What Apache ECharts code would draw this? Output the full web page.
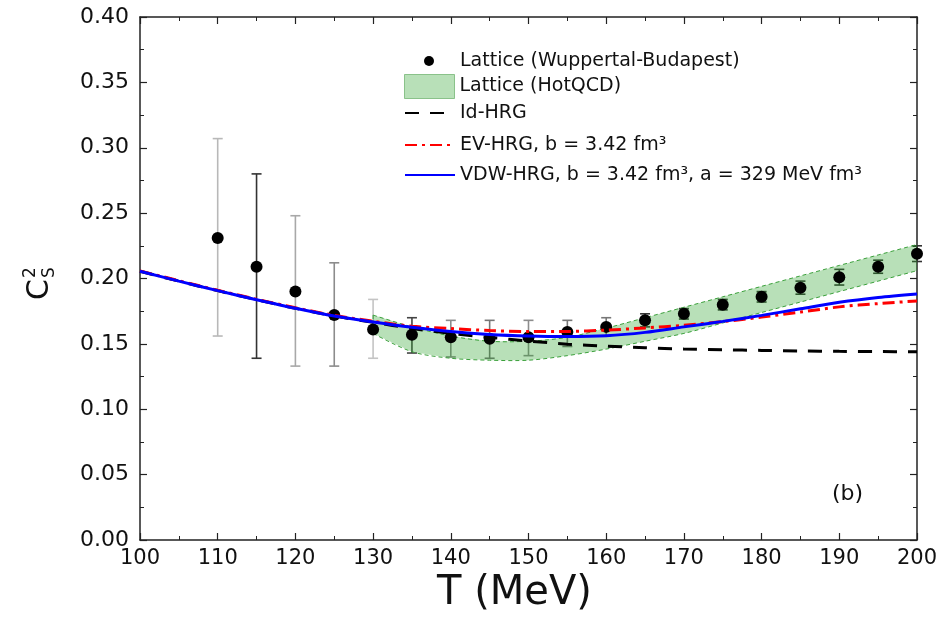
<!DOCTYPE html>
<html><head><meta charset="utf-8">
<script src="https://cdn.jsdelivr.net/npm/echarts@6/dist/echarts.min.js"></script>
<style>html,body{margin:0;padding:0;background:#fff}#c{width:948px;height:620px}</style>
</head><body><div id="c"></div>
<script>
// ---- data ----
const latticeT    = [110,115,120,125,130,135,140,145,150,155,160,165,170,175,180,185,190,195,200];
const latticeCs2  = [0.231,0.209,0.190,0.172,0.161,0.157,0.155,0.154,0.155,0.159,0.163,0.168,0.173,0.180,0.186,0.193,0.201,0.209,0.219];
const latticeLow  = [0.156,0.139,0.133,0.133,0.139,0.143,0.140,0.139,0.141,0.148,0.156,0.163,0.169,0.176,0.182,0.188,0.195,0.204,0.213];
const latticeHigh = [0.307,0.280,0.248,0.212,0.184,0.170,0.168,0.168,0.168,0.168,0.170,0.173,0.177,0.184,0.190,0.198,0.207,0.214,0.225];

const hotT    = [130,135,140,145,150,155,160,165,170,175,180,185,190,195,200];
const hotHigh = [0.172,0.163,0.156,0.152,0.152,0.155,0.162,0.170,0.178,0.186,0.194,0.202,0.210,0.218,0.226];
const hotLow  = [0.158,0.144,0.139,0.1375,0.1375,0.141,0.146,0.152,0.158,0.166,0.174,0.182,0.190,0.198,0.206];

const curveT = [100,105,110,115,120,125,130,135,140,145,150,155,160,165,170,175,180,185,190,195,200];
const idHRG  = [0.2055,0.1980,0.1907,0.1838,0.1772,0.1713,0.1665,0.1618,0.1580,0.1550,0.1522,0.1498,0.1483,0.1470,0.1461,0.1455,0.1450,0.1446,0.1443,0.1441,0.1440];
const evHRG  = [0.2058,0.1983,0.1910,0.1841,0.1776,0.1718,0.1673,0.1635,0.1617,0.1602,0.1594,0.1595,0.1605,0.1622,0.1642,0.1670,0.1705,0.1743,0.1783,0.1808,0.1828];
const vdwHRG = [0.2055,0.1980,0.1907,0.1838,0.1772,0.1713,0.1668,0.1628,0.1595,0.1572,0.1560,0.1556,0.1562,0.1588,0.1630,0.1672,0.1718,0.1768,0.1818,0.1855,0.1882];

const seriesNames = ['Lattice (Wuppertal-Budapest)','Lattice (HotQCD)','Id-HRG','EV-HRG, b = 3.42 fm\u00B3','VDW-HRG, b = 3.42 fm\u00B3, a = 329 MeV fm\u00B3'];
const xTickLabels = ['100','110','120','130','140','150','160','170','180','190','200'];
const yTickLabels = ['0.00','0.05','0.10','0.15','0.20','0.25','0.30','0.35','0.40'];

// ---- styles ----
const errBarColors = ['#b8b8b8','#333333','#a8a8a8','#8c8c8c','#c4c4c4','#444444','#8c8c8c','#777777','#8c8c8c','#777777','#777777','#333333','#333333','#333333','#333333','#333333','#333333','#333333','#333333'];
const FONT = 'DejaVu Sans';
const AX = '#222';
const BAND_FILL = 'rgba(40,160,40,0.33)';
const BAND_EDGE = '#3aa03a';

const pairs = (xs, ys) => xs.map((x, i) => [x, ys[i]]);

const chart = echarts.init(document.getElementById('c'), null, {renderer: 'canvas'});

const axisCommon = {
  axisLine: {show: true, onZero: false, lineStyle: {color: AX, width: 1.5}},
  axisTick: {show: true, inside: true, length: 7, lineStyle: {color: AX, width: 1.2}},
  minorTick: {show: true, splitNumber: 2, length: 4, lineStyle: {color: AX, width: 1}},
  splitLine: {show: false}
};

const legendBase = {
  left: 404, orient: 'vertical', padding: 0, itemGap: 0, selectedMode: false,
  itemWidth: 50,
  textStyle: {fontFamily: FONT, fontSize: 19, color: '#111', lineHeight: 24}
};

chart.setOption({
  animation: false,
  backgroundColor: '#fff',
  grid: {left: 140, right: 31, top: 17, bottom: 80, containLabel: false},
  xAxis: [
    Object.assign({
      type: 'value', min: 100, max: 200, interval: 10, position: 'bottom',
      name: 'T (MeV)', nameLocation: 'middle', nameGap: 33,
      nameTextStyle: {fontFamily: FONT, fontSize: 40, color: '#111', padding: [0, 28, 0, 0]},
      axisLabel: {fontFamily: FONT, fontSize: 21, color: '#111', margin: 8,
        formatter: v => xTickLabels[Math.round((v - 100) / 10)]}
    }, axisCommon),
    Object.assign({
      type: 'value', min: 100, max: 200, interval: 10, position: 'top',
      axisLabel: {show: false}
    }, axisCommon)
  ],
  yAxis: [
    Object.assign({
      type: 'value', min: 0, max: 0.4, interval: 0.05, position: 'left',
      axisLabel: {fontFamily: FONT, fontSize: 22, color: '#111', margin: 11,
        formatter: v => yTickLabels[Math.round(v / 0.05)]}
    }, axisCommon),
    Object.assign({
      type: 'value', min: 0, max: 0.4, interval: 0.05, position: 'right',
      axisLabel: {show: false}
    }, axisCommon)
  ],
  legend: [
    Object.assign({}, legendBase, {left: 424, top: 49, itemWidth: 10, itemHeight: 10,
      textStyle: Object.assign({}, legendBase.textStyle, {padding: [0, 0, 0, 21]}),
      data: [{name: seriesNames[0], icon: 'circle', itemStyle: {color: '#000', opacity: 1}}]}),
    Object.assign({}, legendBase, {top: 74, itemHeight: 24,
      data: [{name: seriesNames[1], icon: 'rect',
        itemStyle: {color: BAND_FILL, borderColor: 'rgba(40,140,40,0.45)', borderWidth: 1}}]}),
    Object.assign({}, legendBase, {top: 101, itemHeight: 14,
      data: [{name: seriesNames[2], itemStyle: {opacity: 0}}]}),
    Object.assign({}, legendBase, {top: 133, itemHeight: 14,
      data: [{name: seriesNames[3], itemStyle: {opacity: 0}}]}),
    Object.assign({}, legendBase, {top: 163, itemHeight: 14,
      data: [{name: seriesNames[4], itemStyle: {opacity: 0}}]})
  ],
  graphic: [
    {
      type: 'group', x: 40, y: 280, rotation: Math.PI / 2,
      children: [
        {type: 'text', x: -20, y: 0, style: {text: 'C', fontFamily: FONT, fontSize: 30, fill: '#111', textVerticalAlign: 'middle', textAlign: 'left'}},
        {type: 'text', x: 2, y: -9, style: {text: '2', fontFamily: FONT, fontSize: 17, fill: '#111', textVerticalAlign: 'middle', textAlign: 'left'}},
        {type: 'text', x: 2, y: 10, style: {text: 'S', fontFamily: FONT, fontSize: 17, fill: '#111', textVerticalAlign: 'middle', textAlign: 'left'}}
      ]
    },
    {type: 'text', left: 832, top: 483, style: {text: '(b)', fontFamily: FONT, fontSize: 22, fill: '#111'}}
  ],
  series: [
    {
      type: 'custom', name: 'errbars', silent: true,
      data: latticeT.map((t, i) => [t, latticeLow[i], latticeHigh[i]]),
      encode: {x: 0, y: [1, 2]},
      renderItem: function (params, api) {
        const t = api.value(0);
        const pTop = api.coord([t, api.value(2)]);
        const pBot = api.coord([t, api.value(1)]);
        const st = {stroke: errBarColors[params.dataIndex], lineWidth: 1.6, fill: null};
        const hw = 5;
        return {type: 'group', children: [
          {type: 'line', shape: {x1: pTop[0], y1: pTop[1], x2: pBot[0], y2: pBot[1]}, style: st},
          {type: 'line', shape: {x1: pTop[0] - hw, y1: pTop[1], x2: pTop[0] + hw, y2: pTop[1]}, style: st},
          {type: 'line', shape: {x1: pBot[0] - hw, y1: pBot[1], x2: pBot[0] + hw, y2: pBot[1]}, style: st}
        ]};
      }
    },
    {
      type: 'scatter', name: seriesNames[0], symbol: 'circle', symbolSize: 12,
      itemStyle: {color: '#000', opacity: 1},
      data: pairs(latticeT, latticeCs2)
    },
    {
      type: 'custom', name: seriesNames[1], silent: true,
      itemStyle: {color: BAND_FILL},
      data: hotT.map((t, i) => [t, hotLow[i], hotHigh[i]]),
      encode: {x: 0, y: [1, 2]},
      renderItem: function (params, api) {
        if (params.dataIndex !== 0) return {type: 'group', children: []};
        const up = hotT.map((t, i) => api.coord([t, hotHigh[i]]));
        const lo = hotT.map((t, i) => api.coord([t, hotLow[i]]));
        const poly = up.concat(lo.slice().reverse());
        const edge = {stroke: BAND_EDGE, lineWidth: 1, lineDash: [4, 3], fill: null};
        return {type: 'group', children: [
          {type: 'polygon', shape: {points: poly}, style: {fill: BAND_FILL, stroke: null}},
          {type: 'polyline', shape: {points: up, smooth: 0.3}, style: edge},
          {type: 'polyline', shape: {points: lo, smooth: 0.3}, style: edge},
          {type: 'line', shape: {x1: up[0][0], y1: up[0][1], x2: lo[0][0], y2: lo[0][1]}, style: edge}
        ]};
      }
    },
    {
      type: 'line', name: seriesNames[2], symbol: 'none', smooth: 0.3,
      itemStyle: {color: '#000'},
      lineStyle: {color: '#000', width: 3, type: [14, 11]},
      data: pairs(curveT, idHRG)
    },
    {
      type: 'line', name: seriesNames[3], symbol: 'none', smooth: 0.3,
      itemStyle: {color: '#ff0000'},
      lineStyle: {color: '#ff0000', width: 3, type: [12, 5, 3, 5]},
      data: pairs(curveT, evHRG)
    },
    {
      type: 'line', name: seriesNames[4], symbol: 'none', smooth: 0.3,
      itemStyle: {color: '#0000ff'},
      lineStyle: {color: '#0000ff', width: 3},
      data: pairs(curveT, vdwHRG)
    }
  ]
});
</script>
</body></html>
